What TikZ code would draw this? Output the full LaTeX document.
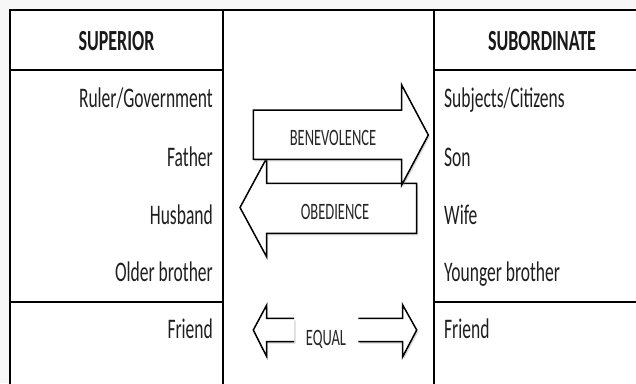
\documentclass[tikz,border=0pt]{standalone}
\usepackage{fontspec}
\setmainfont{Carlito}
\usepackage{graphicx}
\usetikzlibrary{shadows}

\newcommand{\tall}[1]{\scalebox{1}[1.62]{#1}}

\tikzset{
  rowtext/.style={font=\fontsize{17.5}{20}\selectfont, inner sep=0pt, text=black!88},
  headtext/.style={font=\bfseries\fontsize{18}{21}\selectfont, inner sep=0pt, text=black!90},
  arrowtext/.style={font=\fontsize{14.5}{17}\selectfont, inner sep=0pt, text=black!85},
  blockarrow/.style={draw, line width=1.5pt, fill=white, line join=miter,
    drop shadow={shadow xshift=1.5pt, shadow yshift=-2pt, opacity=.3}},
  gridline/.style={line width=2pt}
}

\begin{document}
\begin{tikzpicture}[x=1pt,y=-1pt]
\useasboundingbox (0,0) rectangle (636,383);
\clip (0,0) rectangle (636,383);
\fill[gray!6] (0,0) rectangle (636,383);
\fill[white] (10,10) rectangle (660,400);

\draw[gridline] (10,400) -- (10,10) -- (660,10);
\draw[gridline] (223,10) -- (223,400);
\draw[gridline] (434,10) -- (434,400);
\draw[gridline] (10,70) -- (223,70);
\draw[gridline] (434,70) -- (660,70);
\draw[gridline] (10,302) -- (223,302);
\draw[gridline] (434,302) -- (660,302);

\node[headtext, anchor=base] (sup) at (116.5,50.5) {\tall{SUPERIOR}};
\node[headtext, anchor=base] (sub) at (542,50.5) {\tall{SUBORDINATE}};

\node[rowtext, anchor=base east] (ruler) at (213,107) {\tall{Ruler/Government}};
\node[rowtext, anchor=base east] (father) at (213,166) {\tall{Father}};
\node[rowtext, anchor=base east] (husband) at (213,224) {\tall{Husband}};
\node[rowtext, anchor=base east] (older) at (213,281.5) {\tall{Older brother}};
\node[rowtext, anchor=base east] (friendl) at (213,338) {\tall{Friend}};

\node[rowtext, anchor=base west] (subjects) at (444,107) {\tall{Subjects/Citizens}};
\node[rowtext, anchor=base west] (son) at (444,166) {\tall{Son}};
\node[rowtext, anchor=base west] (wife) at (444,224) {\tall{Wife}};
\node[rowtext, anchor=base west] (younger) at (444,281.5) {\tall{Younger brother}};
\node[rowtext, anchor=base west] (friendr) at (444,338) {\tall{Friend}};

\filldraw[blockarrow] (416.7,183.3) -- (266.7,183.3) -- (266.7,158) -- (240,207.5)
  -- (266.7,257) -- (266.7,233.3) -- (416.7,233.3) -- cycle;

\filldraw[blockarrow] (253.3,110) -- (401.7,110) -- (401.7,85) -- (428.3,135)
  -- (401.7,185) -- (401.7,159.3) -- (253.3,159.3) -- cycle;

\filldraw[blockarrow] (294,318.3) -- (266.7,318.3) -- (266.7,305) -- (253.3,330)
  -- (266.7,356.7) -- (266.7,341.7) -- (294,341.7);

\filldraw[blockarrow] (358.3,318.3) -- (402.7,318.3) -- (402.7,305) -- (416.7,330)
  -- (402.7,356.7) -- (402.7,341.7) -- (358.3,341.7);

\node[arrowtext, anchor=base] (benev) at (333,145) {\tall{BENEVOLENCE}};
\node[arrowtext, anchor=base] (obed) at (335,219) {\tall{OBEDIENCE}};
\node[arrowtext, anchor=base] (equal) at (326,345) {\tall{EQUAL}};
\end{tikzpicture}
\end{document}
